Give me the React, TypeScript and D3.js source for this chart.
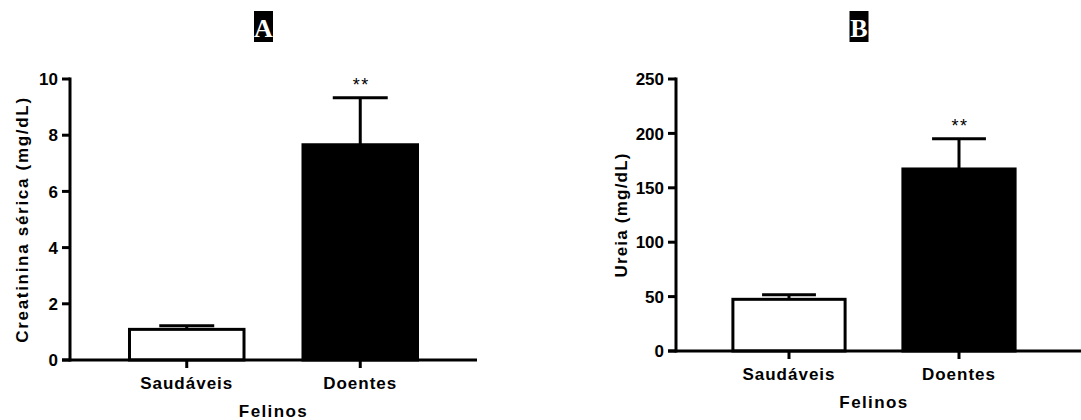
import { useEffect, useRef } from "react";
import * as d3 from "d3";

const groups = ["Saudáveis", "Doentes"];
const barFills = ["#ffffff", "#000000"];
const significance = ["", "**"];

const creatininaMean = [1.09, 7.66];
const creatininaErr = [0.13, 1.67];
const creatininaTicks = [0, 2, 4, 6, 8, 10];

const ureiaMean = [47.5, 167.3];
const ureiaErr = [4.2, 27.8];
const ureiaTicks = [0, 50, 100, 150, 200, 250];

const FONT = "'Liberation Sans', Arial, sans-serif";

const panels = [
  {
    letter: "A",
    letterX: 263.5,
    means: creatininaMean,
    errs: creatininaErr,
    ticks: creatininaTicks,
    yLabel: "Creatinina sérica (mg/dL)",
    yLabelX: 22,
    yLabelSpacing: 1.7,
    yRange: [360, 79],
    axisX: [70, 477],
    bandRange: [100, 447],
    xTitleX: 273.5,
  },
  {
    letter: "B",
    letterX: 859,
    means: ureiaMean,
    errs: ureiaErr,
    ticks: ureiaTicks,
    yLabel: "Ureia (mg/dL)",
    yLabelX: 621,
    yLabelSpacing: 1.2,
    yRange: [351, 79],
    axisX: [676, 1081],
    bandRange: [704, 1044],
    xTitleX: 874,
  },
];

export default function App() {
  const ref = useRef<SVGSVGElement | null>(null);

  useEffect(() => {
    const svg = d3.select(ref.current);
    svg.selectAll("*").remove();

    panels.forEach((p) => {
      const g = svg.append("g");
      const y = d3
        .scaleLinear()
        .domain([p.ticks[0], p.ticks[p.ticks.length - 1]])
        .range(p.yRange);
      const x = d3
        .scaleBand()
        .domain(groups)
        .range(p.bandRange)
        .paddingInner(0.34)
        .paddingOuter(0.17);
      const y0 = y(0);
      const bw = x.bandwidth();

      // panel letter
      g.append("rect")
        .attr("x", p.letterX - 9.5)
        .attr("y", 11)
        .attr("width", 19)
        .attr("height", 31)
        .attr("fill", "#000");
      g.append("text")
        .attr("x", p.letterX)
        .attr("y", 37)
        .attr("text-anchor", "middle")
        .style("font-family", "'Liberation Serif', 'Times New Roman', serif")
        .style("font-weight", "bold")
        .style("font-size", "26px")
        .attr("fill", "#fff")
        .text(p.letter);

      // bars
      groups.forEach((grp, i) => {
        const bx = x(grp)!;
        const top = y(p.means[i]);
        const cx = bx + bw / 2;
        const capY = y(p.means[i] + p.errs[i]);
        const capW = bw * 0.48;

        g.append("line")
          .attr("x1", cx)
          .attr("x2", cx)
          .attr("y1", top)
          .attr("y2", capY)
          .attr("stroke", "#000")
          .attr("stroke-width", 3);
        g.append("line")
          .attr("x1", cx - capW / 2)
          .attr("x2", cx + capW / 2)
          .attr("y1", capY)
          .attr("y2", capY)
          .attr("stroke", "#000")
          .attr("stroke-width", 3);

        g.append("rect")
          .attr("x", bx)
          .attr("y", top)
          .attr("width", bw)
          .attr("height", y0 - top)
          .attr("fill", barFills[i])
          .attr("stroke", "#000")
          .attr("stroke-width", 3);

        if (significance[i]) {
          g.append("text")
            .attr("x", cx + 1)
            .attr("y", capY - 6.5)
            .attr("text-anchor", "middle")
            .style("font-family", FONT)
            .style("font-size", "18px")
            .style("letter-spacing", "1.5px")
            .text(significance[i]);
        }

        // x tick
        g.append("line")
          .attr("x1", cx)
          .attr("x2", cx)
          .attr("y1", y0)
          .attr("y2", y0 + 8)
          .attr("stroke", "#000")
          .attr("stroke-width", 3);
        g.append("text")
          .attr("x", cx)
          .attr("y", y0 + 29)
          .attr("text-anchor", "middle")
          .style("font-family", FONT)
          .style("font-weight", "bold")
          .style("font-size", "17px")
          .style("letter-spacing", "1px")
          .text(grp);
      });

      // y axis
      g.append("line")
        .attr("x1", p.axisX[0])
        .attr("x2", p.axisX[0])
        .attr("y1", y(p.ticks[p.ticks.length - 1]) - 1.5)
        .attr("y2", y0 + 1.5)
        .attr("stroke", "#000")
        .attr("stroke-width", 3);
      p.ticks.forEach((t) => {
        g.append("line")
          .attr("x1", p.axisX[0] - 8)
          .attr("x2", p.axisX[0])
          .attr("y1", y(t))
          .attr("y2", y(t))
          .attr("stroke", "#000")
          .attr("stroke-width", 3);
        g.append("text")
          .attr("x", p.axisX[0] - 12)
          .attr("y", y(t))
          .attr("dy", "0.36em")
          .attr("text-anchor", "end")
          .style("font-family", FONT)
          .style("font-weight", "bold")
          .style("font-size", "17px")
          .text(t);
      });

      // x axis
      g.append("line")
        .attr("x1", p.axisX[0] - 8)
        .attr("x2", p.axisX[1])
        .attr("y1", y0)
        .attr("y2", y0)
        .attr("stroke", "#000")
        .attr("stroke-width", 3);

      g.append("text")
        .attr("x", p.xTitleX)
        .attr("y", y0 + 57)
        .attr("text-anchor", "middle")
        .style("font-family", FONT)
        .style("font-weight", "bold")
        .style("font-size", "17px")
        .style("letter-spacing", "1.4px")
        .text("Felinos");

      const midY = (p.yRange[0] + 79) / 2;
      g.append("text")
        .attr("transform", `translate(${p.yLabelX},${midY}) rotate(-90)`)
        .attr("dy", "0.36em")
        .attr("text-anchor", "middle")
        .style("font-family", FONT)
        .style("font-weight", "bold")
        .style("font-size", "17px")
        .style("letter-spacing", `${p.yLabelSpacing}px`)
        .text(p.yLabel);
    });
  }, []);

  return (
    <div style={{ position: "absolute", left: 0, top: 0, background: "#fff" }}>
      <svg ref={ref} width={1081} height={420} style={{ display: "block" }} />
    </div>
  );
}
